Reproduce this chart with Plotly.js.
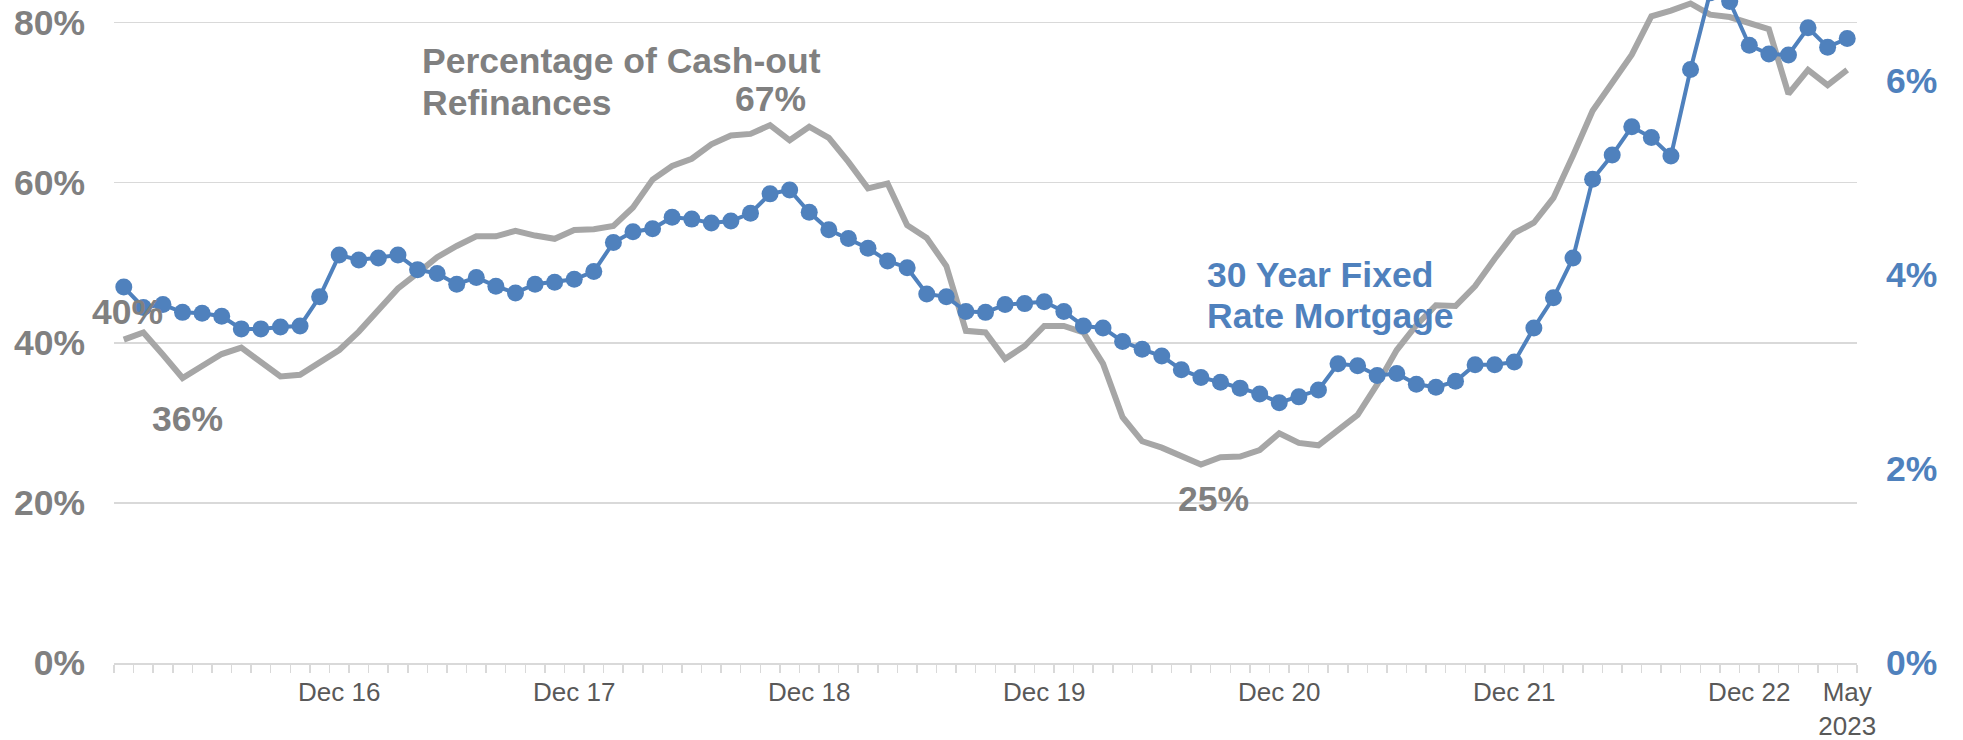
<!DOCTYPE html>
<html>
<head>
<meta charset="utf-8">
<script src="https://cdn.plot.ly/plotly-3.0.1.min.js"></script>
<style>
  html, body { margin: 0; padding: 0; background: #ffffff; }
  #chart { width: 1963px; height: 740px; }
</style>
</head>
<body>
<div id="chart"></div>
<script>
// monthly, Jan 2016 .. May 2023
const firstYear = 2016;
const monthNames = ['Jan', 'Feb', 'Mar', 'Apr', 'May', 'Jun', 'Jul', 'Aug', 'Sep', 'Oct', 'Nov', 'Dec'];
const months = [];
for (let i = 0; i < 89; i++) {
    months.push(monthNames[i % 12] + ' ' + String(firstYear + Math.floor(i / 12)).slice(2));
}

// share of refinances that were cash-out (%)
const cashOutShare = [
    40.4, 41.3, 38.5, 35.6, 37.1, 38.6, 39.4, 37.6, 35.8, 36.0, 37.5, 39.1,   // 2016
    41.4, 44.2, 46.8, 48.7, 50.7, 52.1, 53.3, 53.3, 54.0, 53.4, 53.0, 54.1,   // 2017
    54.2, 54.6, 56.9, 60.4, 62.1, 63.0, 64.8, 65.9, 66.1, 67.2, 65.3, 67.0,   // 2018
    65.6, 62.6, 59.3, 59.9, 54.7, 53.1, 49.6, 41.5, 41.3, 38.0, 39.6, 42.1,   // 2019
    42.1, 41.3, 37.4, 30.7, 27.7, 26.9, 25.8, 24.8, 25.7, 25.8, 26.6, 28.7,   // 2020
    27.5, 27.2, 29.1, 31.0, 34.8, 39.1, 42.2, 44.7, 44.6, 47.1, 50.5, 53.7,   // 2021
    55.0, 58.1, 63.4, 69.0, 72.5, 76.0, 80.8, 81.5, 82.4, 81.0, 80.7, 80.0,   // 2022
    79.2, 71.1, 74.1, 72.2, 74.1                                              // 2023
];

// 30 year fixed mortgage rate, monthly average (%)
const mortgageRate = [
    3.87, 3.66, 3.69, 3.61, 3.60, 3.57, 3.44, 3.44, 3.46, 3.47, 3.77, 4.20,
    4.15, 4.17, 4.20, 4.05, 4.01, 3.90, 3.97, 3.88, 3.81, 3.90, 3.92, 3.95,
    4.03, 4.33, 4.44, 4.47, 4.59, 4.57, 4.53, 4.55, 4.63, 4.83, 4.87, 4.64,
    4.46, 4.37, 4.27, 4.14, 4.07, 3.80, 3.77, 3.62, 3.61, 3.69, 3.70, 3.72,
    3.62, 3.47, 3.45, 3.31, 3.23, 3.16, 3.02, 2.94, 2.89, 2.83, 2.77, 2.68,
    2.74, 2.81, 3.08, 3.06, 2.96, 2.98, 2.87, 2.84, 2.90, 3.07, 3.07, 3.10,
    3.45, 3.76, 4.17, 4.98, 5.23, 5.52, 5.41, 5.22, 6.11, 6.90, 6.81, 6.36,
    6.27, 6.26, 6.54, 6.34, 6.43
];

// x-axis labels
const tickMonths = ['Dec 16', 'Dec 17', 'Dec 18', 'Dec 19', 'Dec 20', 'Dec 21', 'Dec 22', 'May 23'];
const tickLabels = ['Dec 16', 'Dec 17', 'Dec 18', 'Dec 19', 'Dec 20', 'Dec 21', 'Dec 22', 'May<br>2023'];

const leftTicks = [0, 20, 40, 60, 80];
const rightTicks = [0, 2, 4, 6];

const GRAY_LINE = '#A6A6A6';
const GRAY_TEXT = '#808080';
const BLUE = '#4F81BD';
const FONT = 'Liberation Sans, Arial, sans-serif';

const xs = months.map((m, i) => i);
const tickIdx = tickMonths.map(m => months.indexOf(m));

// month boundaries for the small tick marks
const boundaries = [];
for (let i = 0; i <= months.length; i++) boundaries.push(i - 0.5);

const traces = [
    {
        x: xs, y: cashOutShare, type: 'scatter', mode: 'lines',
        line: { color: GRAY_LINE, width: 6 },
        hoverinfo: 'skip'
    },
    {
        x: xs, y: mortgageRate, type: 'scatter', mode: 'lines+markers', yaxis: 'y2',
        line: { color: BLUE, width: 4 },
        marker: { color: BLUE, size: 17 },
        hoverinfo: 'skip'
    }
];

function label(text, x, y, color, anchor) {
    return {
        text: text, x: x, y: y, xref: 'x', yref: 'y',
        xanchor: anchor || 'center', yanchor: 'middle', showarrow: false,
        font: { family: FONT, size: 35.5, color: color, weight: 'bold' }
    };
}

const layout = {
    width: 1963, height: 740,
    margin: { l: 114.3, r: 105.9, t: 0, b: 76.5 },
    paper_bgcolor: '#ffffff', plot_bgcolor: '#ffffff',
    showlegend: false,
    xaxis: {
        range: [-0.5, months.length - 0.5],
        tickmode: 'array', tickvals: tickIdx, ticktext: tickLabels,
        ticks: '', ticklabelstandoff: 5,
        tickfont: { family: FONT, size: 26, color: '#595959' },
        showgrid: false, zeroline: false,
        showline: true, linecolor: '#D9D9D9', linewidth: 1.5,
        minor: { tickmode: 'array', tickvals: boundaries, ticks: 'outside', ticklen: 8, tickwidth: 1.5, tickcolor: '#D9D9D9', showgrid: false }
    },
    yaxis: {
        range: [0, 82.83],
        tickmode: 'array', tickvals: leftTicks, ticktext: leftTicks.map(v => v + '%'),
        ticks: '', ticklabelstandoff: 28,
        tickfont: { family: FONT, size: 35.5, color: GRAY_TEXT, weight: 'bold' },
        showgrid: true, gridcolor: '#D9D9D9', gridwidth: 1.5,
        zeroline: false, showline: false
    },
    yaxis2: {
        overlaying: 'y', side: 'right',
        range: [0, 6.826],
        tickmode: 'array', tickvals: rightTicks, ticktext: rightTicks.map(v => v + '%'),
        ticks: '', ticklabelstandoff: 28,
        tickfont: { family: FONT, size: 35.5, color: BLUE, weight: 'bold' },
        showgrid: false, zeroline: false, showline: false
    },
    annotations: [
        label('Percentage of Cash-out', 15.15, 75.2, GRAY_TEXT, 'left'),
        label('Refinances', 15.15, 70.0, GRAY_TEXT, 'left'),
        label('67%', 33.0, 70.4, GRAY_TEXT),
        label('40%', 0.2, 43.8, GRAY_TEXT),
        label('36%', 3.25, 30.5, GRAY_TEXT),
        label('25%', 55.66, 20.5, GRAY_TEXT),
        label('74%', 89.22, 69.1, GRAY_TEXT),
        label('30 Year Fixed', 55.2, 48.5, BLUE, 'left'),
        label('Rate Mortgage', 55.2, 43.4, BLUE, 'left')
    ]
};

Plotly.newPlot('chart', traces, layout, { staticPlot: true, displayModeBar: false });
</script>
</body>
</html>
